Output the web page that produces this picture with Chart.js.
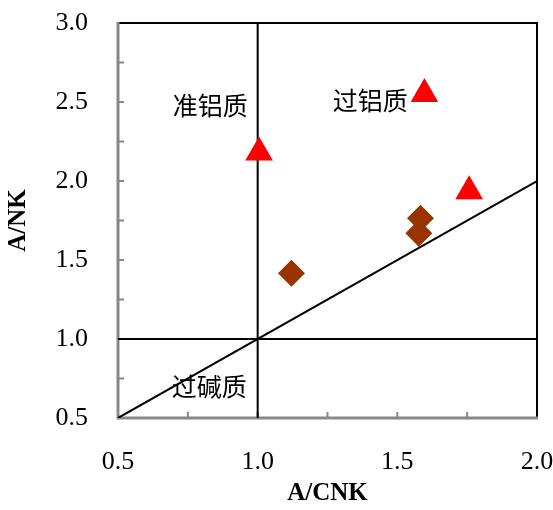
<!DOCTYPE html>
<html>
<head>
<meta charset="utf-8">
<script src="https://cdn.jsdelivr.net/npm/chart.js@4"></script>
<style>
  html, body { margin: 0; padding: 0; background: #fff; }
  #wrap { width: 553px; height: 510px; }
</style>
</head>
<body>
<div id="wrap"><canvas id="chart" width="553" height="510"></canvas></div>
<script>
// A/CNK - A/NK data
const triX = [1.005, 1.597, 1.757];
const triY = [2.18, 2.55, 1.935];
const diaX = [1.121, 1.583, 1.577];
const diaY = [1.416, 1.764, 1.669];

// reference lines
const diagX = [0.5, 2.0];
const diagY = [0.5, 2.0];
const vertX = [1.0, 1.0];
const vertY = [0.5, 3.0];
const horzX = [0.5, 2.0];
const horzY = [1.0, 1.0];

const xTicks = [0.5, 1.0, 1.5, 2.0];
const yTicks = [0.5, 1.0, 1.5, 2.0, 2.5, 3.0];

// field labels
const fieldNames = ['准铝质', '过铝质', '过碱质'];
const fieldX = [0.83, 1.403, 0.827];
const fieldY = [2.48, 2.51, 0.70];

const toPts = (xs, ys) => xs.map((x, i) => ({ x: x, y: ys[i] }));

const lineSet = (xs, ys) => ({
    data: toPts(xs, ys),
    showLine: true,
    borderColor: '#000',
    borderWidth: 2,
    pointRadius: 0,
    order: 2
});

// frame with inward minor ticks, like the original spreadsheet plot
const framePlugin = {
    id: 'frame',
    beforeDatasetsDraw(chart) {
        const { ctx, chartArea: a, scales } = chart;
        ctx.save();
        ctx.strokeStyle = '#000';
        ctx.lineWidth = 2;
        ctx.beginPath();
        ctx.moveTo(a.left, a.top);
        ctx.lineTo(a.right, a.top);
        ctx.lineTo(a.right, a.bottom);
        ctx.stroke();

        ctx.strokeStyle = '#888';
        ctx.lineWidth = 3;
        ctx.beginPath();
        ctx.moveTo(a.left, a.top - 1);
        ctx.lineTo(a.left, a.bottom);
        ctx.lineTo(a.right + 1, a.bottom);
        ctx.stroke();

        ctx.lineWidth = 2;
        ctx.beginPath();
        for (let v = 0.75; v < 2.0; v += 0.25) {
            const px = scales.x.getPixelForValue(v);
            ctx.moveTo(px, a.bottom);
            ctx.lineTo(px, a.bottom - 6);
        }
        for (let v = 0.75; v < 3.0; v += 0.25) {
            const py = scales.y.getPixelForValue(v);
            ctx.moveTo(a.left, py);
            ctx.lineTo(a.left + 6, py);
        }
        ctx.stroke();
        ctx.restore();
    },
    afterDatasetsDraw(chart) {
        const { ctx, scales } = chart;
        ctx.save();
        ctx.fillStyle = '#000';
        ctx.font = '25px "Noto Sans CJK SC"';
        ctx.textAlign = 'center';
        ctx.textBaseline = 'middle';
        fieldNames.forEach((t, i) => {
            ctx.fillText(t, scales.x.getPixelForValue(fieldX[i]), scales.y.getPixelForValue(fieldY[i]));
        });
        ctx.restore();
    }
};

new Chart(document.getElementById('chart'), {
    type: 'scatter',
    data: {
        datasets: [
            lineSet(diagX, diagY),
            lineSet(vertX, vertY),
            lineSet(horzX, horzY),
            {
                data: toPts(diaX, diaY),
                pointStyle: 'rectRot',
                pointRadius: 13.5,
                pointHoverRadius: 13.5,
                backgroundColor: '#993300',
                borderColor: '#993300',
                borderWidth: 0,
                order: 1
            },
            {
                data: toPts(triX, triY),
                pointStyle: 'triangle',
                pointRadius: 16,
                pointHoverRadius: 16,
                backgroundColor: '#ff0000',
                borderColor: '#ff0000',
                borderWidth: 0,
                order: 0
            }
        ]
    },
    options: {
        responsive: false,
        animation: false,
        layout: { padding: { top: 23, right: 13, left: 0, bottom: 0 } },
        plugins: {
            legend: { display: false },
            tooltip: { enabled: false }
        },
        scales: {
            x: {
                type: 'linear',
                min: 0.5,
                max: 2.0,
                afterBuildTicks: s => { s.ticks = xTicks.map(v => ({ value: v })); },
                afterFit: s => { s.height = 92; s.paddingLeft = 0; s.paddingRight = 0; },
                grid: { display: false },
                border: { display: false },
                ticks: {
                    padding: 21,
                    color: '#000',
                    font: { family: "'Liberation Serif'", size: 26 },
                    callback: v => v.toFixed(1)
                },
                title: {
                    display: true,
                    text: 'A/CNK',
                    color: '#000',
                    padding: { top: 0, bottom: 1 },
                    font: { family: "'Liberation Serif'", size: 25, weight: 'bold' }
                }
            },
            y: {
                type: 'linear',
                min: 0.5,
                max: 3.0,
                afterBuildTicks: s => { s.ticks = yTicks.map(v => ({ value: v })); },
                afterFit: s => { s.width = 118; s.paddingTop = 0; s.paddingBottom = 0; },
                grid: { display: false },
                border: { display: false },
                ticks: {
                    padding: 22,
                    color: '#000',
                    font: { family: "'Liberation Serif'", size: 26 },
                    callback: v => v.toFixed(1)
                },
                title: {
                    display: true,
                    text: 'A/NK',
                    color: '#000',
                    padding: { top: 4, bottom: 0 },
                    font: { family: "'Liberation Serif'", size: 25, weight: 'bold' }
                }
            }
        }
    },
    plugins: [framePlugin]
});
</script>
</body>
</html>
